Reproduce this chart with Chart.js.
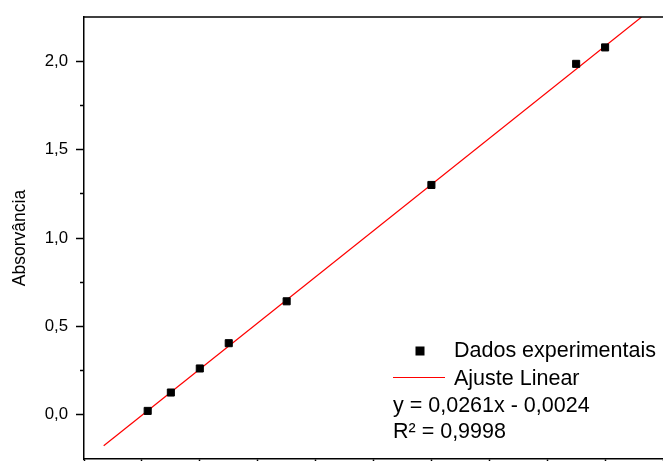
<!DOCTYPE html>
<html>
<head>
<meta charset="utf-8">
<script src="https://cdn.jsdelivr.net/npm/chart.js@4.4.1/dist/chart.umd.min.js"></script>
<style>
  html, body { margin: 0; padding: 0; background: #fff; overflow: hidden; }
  canvas { display: block; }
</style>
</head>
<body>
<canvas id="absorbance-chart" width="663" height="461"></canvas>
<script>
// concentrations and measured absorbance
const concentrations = [1, 5, 10, 15, 25, 50, 75, 80];
const absorbances = [0.022, 0.126, 0.262, 0.405, 0.642, 1.300, 1.985, 2.078];

// ends of the fitted line
const fitX = [-6.6, 86.3];
const fitY = [-0.175, 2.25];

const fitLabels = ["y = 0,0261x - 0,0024", "R² = 0,9998"];
const xTicks = [-10, 0, 10, 20, 30, 40, 50, 60, 70, 80, 90];
const yTicks = [0, 0.5, 1, 1.5, 2];
const yMinorTicks = [0.25, 0.75, 1.25, 1.75];

const FONT = "'Liberation Sans', Arial, sans-serif";

function formatTick(value) {
  return value.toFixed(1).replace(".", ",");
}

// top frame line, the plot is cropped on the right and bottom
const frameTop = {
  id: "frameTop",
  afterDraw(chart) {
    const { ctx, chartArea } = chart;
    ctx.save();
    ctx.strokeStyle = "#000";
    ctx.lineWidth = 1.5;
    ctx.beginPath();
    ctx.moveTo(chartArea.left - 0.75, chartArea.top);
    ctx.lineTo(chartArea.right, chartArea.top);
    ctx.stroke();
    ctx.restore();
  }
};

// legend inside the plot with the fit equation below it
const insideLegend = {
  id: "insideLegend",
  afterDraw(chart) {
    const { ctx } = chart;
    const sets = chart.data.datasets;
    ctx.save();
    ctx.font = `21.5px ${FONT}`;
    ctx.fillStyle = "#000";
    ctx.textBaseline = "alphabetic";
    ctx.textAlign = "left";

    ctx.fillRect(415.5, 346.5, 9, 9);
    ctx.fillText(sets[0].label, 454, 357);

    ctx.strokeStyle = "#ff0000";
    ctx.lineWidth = 1.2;
    ctx.beginPath();
    ctx.moveTo(393, 377.5);
    ctx.lineTo(445, 377.5);
    ctx.stroke();
    ctx.fillText(sets[1].label, 454, 385);

    fitLabels.forEach((text, i) => {
      ctx.fillText(text, 393, 411.5 + i * 26.8);
    });
    ctx.restore();
  }
};

function setTicks(values) {
  return (scale) => {
    scale.ticks = values.map((value) => ({ value }));
  };
}

function noPadding(width, height) {
  return (scale) => {
    if (width !== undefined) scale.width = width;
    if (height !== undefined) scale.height = height;
    scale.paddingTop = 0;
    scale.paddingBottom = 0;
    scale.paddingLeft = 0;
    scale.paddingRight = 0;
  };
}

function renderChart() {
  const ctx = document.getElementById("absorbance-chart").getContext("2d");

  new Chart(ctx, {
    type: "scatter",
    data: {
      datasets: [
        {
          label: "Dados experimentais",
          data: concentrations.map((x, i) => ({ x, y: absorbances[i] })),
          pointStyle: "rect",
          pointRadius: 5,
          backgroundColor: "#000",
          borderColor: "#000",
          borderWidth: 1,
          order: 1
        },
        {
          label: "Ajuste Linear",
          data: fitX.map((x, i) => ({ x, y: fitY[i] })),
          showLine: true,
          pointRadius: 0,
          borderColor: "#ff0000",
          borderWidth: 1.2,
          order: 2
        }
      ]
    },
    options: {
      responsive: false,
      animation: false,
      layout: {
        autoPadding: false,
        padding: { top: 17, left: 0, right: 0, bottom: 0 }
      },
      scales: {
        x: {
          type: "linear",
          position: "bottom",
          min: -10,
          max: 90,
          afterBuildTicks: setTicks(xTicks),
          ticks: { display: false },
          grid: {
            drawOnChartArea: false,
            tickLength: 8,
            tickColor: "#000",
            tickWidth: 1.5
          },
          border: { color: "#000", width: 1.5 },
          afterFit: noPadding(undefined, 2)
        },
        y: {
          type: "linear",
          position: "left",
          weight: 1,
          min: -0.25,
          max: 2.25,
          afterBuildTicks: setTicks(yTicks),
          ticks: {
            padding: 8,
            color: "#000",
            font: { family: FONT, size: 16.8 },
            callback: formatTick
          },
          grid: {
            drawOnChartArea: false,
            tickLength: 8,
            tickColor: "#000",
            tickWidth: 1.5
          },
          border: { color: "#000", width: 1.5 },
          title: {
            display: true,
            text: "Absorvância",
            color: "#000",
            font: { family: FONT, size: 17.5 },
            padding: { top: 10, bottom: 0 }
          },
          afterFit: noPadding(84)
        },
        yMinor: {
          type: "linear",
          position: "left",
          weight: 0,
          min: -0.25,
          max: 2.25,
          afterBuildTicks: setTicks(yMinorTicks),
          ticks: { display: false },
          grid: {
            drawOnChartArea: false,
            tickLength: 4,
            tickColor: "#000",
            tickWidth: 1.5
          },
          border: { display: false },
          afterFit: noPadding(0)
        }
      },
      plugins: {
        legend: { display: false },
        tooltip: { enabled: false }
      }
    },
    plugins: [frameTop, insideLegend]
  });
}

renderChart();
</script>
</body>
</html>
